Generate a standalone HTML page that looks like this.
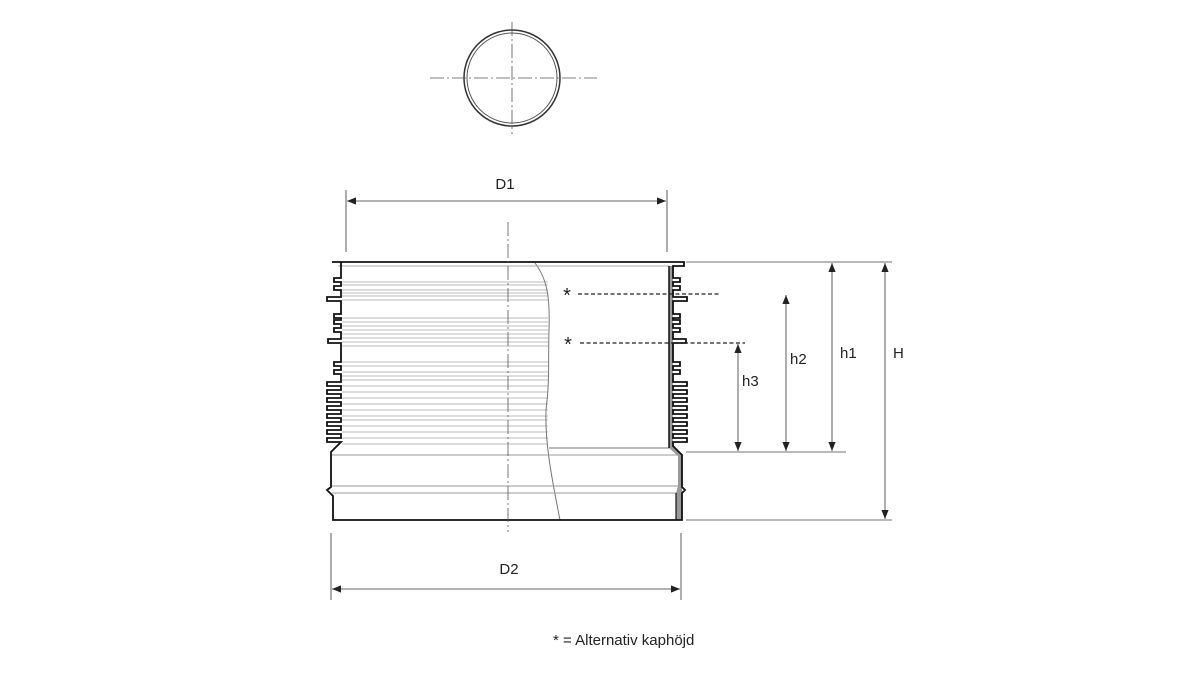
<!DOCTYPE html>
<html><head><meta charset="utf-8"><style>
html,body{margin:0;padding:0;background:#fff;width:1200px;height:675px;overflow:hidden}
text{font-family:"Liberation Sans",sans-serif;fill:#222}
</style></head><body>
<svg id="s" width="1200" height="675" viewBox="0 0 1200 675" xmlns="http://www.w3.org/2000/svg">
<defs>
<marker id="a" viewBox="0 0 10 10" refX="10" refY="5" markerWidth="11" markerHeight="9" orient="auto-start-reverse" markerUnits="userSpaceOnUse"><path d="M0,1 L10,5 L0,9z" fill="#222"/></marker>
</defs>
<circle cx="512" cy="78" r="48" fill="none" stroke="#333" stroke-width="1.5"/>
<circle cx="512" cy="78" r="45" fill="none" stroke="#555" stroke-width="1"/>
<line x1="430" y1="78" x2="597" y2="78" stroke="#555" stroke-width="0.8" stroke-dasharray="14,3,2,3"/>
<line x1="512" y1="22" x2="512" y2="134" stroke="#555" stroke-width="0.8" stroke-dasharray="14,3,2,3"/>
<g id="stripes" stroke="#bbb" stroke-width="1"></g>
<path d="M535,263 C548,280 550,300 549,330 C548,360 550,380 546,410 C545,440 550,470 560,520" fill="none" stroke="#777" stroke-width="1"/>
<line x1="549" y1="448" x2="669" y2="448" stroke="#777"/>
<line x1="332" y1="455" x2="681" y2="455" stroke="#999"/>
<line x1="332" y1="486" x2="681" y2="486" stroke="#999"/>
<line x1="332" y1="493" x2="681" y2="493" stroke="#999"/>
<line x1="338" y1="266" x2="669" y2="266" stroke="#aaa"/>
<path d="M669,266 L673,266 L673,446 L682,455 L682,520 L676,520 L676,493 L678,486 L678,456 L669,448 Z" fill="#999" stroke="none"/>
<path id="outline" fill="none" stroke="#111" stroke-width="1.8"/>
<line x1="669" y1="266" x2="669" y2="448" stroke="#111" stroke-width="1.5"/>
<line x1="676" y1="493" x2="676" y2="520" stroke="#111" stroke-width="1.2"/>
<line x1="508" y1="222" x2="508" y2="532" stroke="#555" stroke-width="0.8" stroke-dasharray="14,3,2,3"/>
<line x1="346" y1="190" x2="346" y2="252" stroke="#333" stroke-width="0.8"/>
<line x1="667" y1="190" x2="667" y2="252" stroke="#333" stroke-width="0.8"/>
<line x1="347" y1="201" x2="666" y2="201" stroke="#333" stroke-width="0.8" marker-start="url(#a)" marker-end="url(#a)"/>
<text x="505" y="189" font-size="15" text-anchor="middle">D1</text>
<line x1="331" y1="533" x2="331" y2="600" stroke="#333" stroke-width="0.8"/>
<line x1="681" y1="533" x2="681" y2="600" stroke="#333" stroke-width="0.8"/>
<line x1="332" y1="589" x2="680" y2="589" stroke="#333" stroke-width="0.8" marker-start="url(#a)" marker-end="url(#a)"/>
<text x="509" y="574" font-size="15" text-anchor="middle">D2</text>
<g stroke="#444" stroke-width="0.8">
<line x1="686" y1="262" x2="892" y2="262"/>
<line x1="686" y1="452" x2="846" y2="452"/>
<line x1="686" y1="520" x2="892" y2="520"/>
</g>
<g stroke="#222" stroke-width="1.3" stroke-dasharray="4,2.5">
<line x1="578" y1="294" x2="720" y2="294"/>
<line x1="580" y1="343" x2="745" y2="343"/>
</g>
<text x="567" y="302" font-size="20" text-anchor="middle">*</text>
<text x="568" y="351" font-size="20" text-anchor="middle">*</text>
<g stroke="#333" stroke-width="0.8">
<line x1="885" y1="263" x2="885" y2="519" marker-start="url(#a)" marker-end="url(#a)"/>
<line x1="832" y1="263" x2="832" y2="451" marker-start="url(#a)" marker-end="url(#a)"/>
<line x1="786" y1="295" x2="786" y2="451" marker-start="url(#a)" marker-end="url(#a)"/>
<line x1="738" y1="344" x2="738" y2="451" marker-start="url(#a)" marker-end="url(#a)"/>
</g>
<text x="742" y="386" font-size="15">h3</text>
<text x="790" y="364" font-size="15">h2</text>
<text x="840" y="358" font-size="15">h1</text>
<text x="893" y="358" font-size="15">H</text>
<text x="553" y="645" font-size="15">* = Alternativ kaphöjd</text>
</svg>
<script>
var fins=[[280,7],[288,7],[299,14],[316,7],[322,7],[330,7],[341,13],[364,7],[372,7],[384,14],[392,14],[400,14],[408,14],[416,14],[424,14],[432,14],[440,14]];
var d="M332,262 L341,262 ";
fins.forEach(function(f){var y=f[0],w=f[1];d+="L341,"+(y-2)+" L"+(341-w)+","+(y-2)+" L"+(341-w)+","+(y+2)+" L341,"+(y+2)+" ";});
d+="L341,442 L331,452 L331,487 L327,490 L331,494 L333,496 L333,520 L676,520 L682,520 L682,493 L685,490 L682,487 L682,455 L673,446 ";
for(var i=fins.length-1;i>=0;i--){var y=fins[i][0],w=fins[i][1];d+="L673,"+(y+2)+" L"+(673+w)+","+(y+2)+" L"+(673+w)+","+(y-2)+" L673,"+(y-2)+" ";}
d+="L673,266 L684,266 L684,262 Z";
document.getElementById("outline").setAttribute("d",d);
var g=document.getElementById("stripes"),ys=[282,285,290,293,296,300,318,322,326,330,334,338,342,346,362,366,372,376,380,386,392,398,404,410,416,420,426,432,438,444];
ys.forEach(function(y){var l=document.createElementNS("http://www.w3.org/2000/svg","line");l.setAttribute("x1",342);l.setAttribute("x2",548);l.setAttribute("y1",y);l.setAttribute("y2",y);g.appendChild(l);});
</script>
</body></html>
